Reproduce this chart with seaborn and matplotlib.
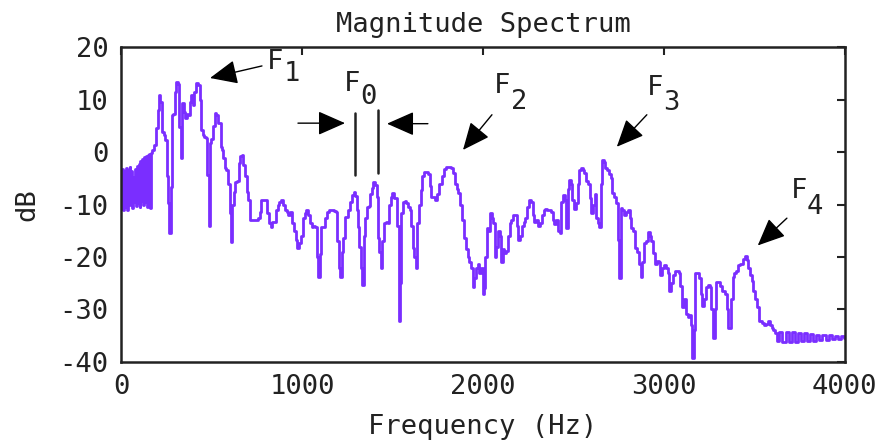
import matplotlib
matplotlib.use("Agg")
import matplotlib.pyplot as plt
import seaborn as sns
import pandas as pd

# Magnitude spectrum of a voiced speech frame (frequency in Hz, level in dB)
freq_hz = [
    0, 5, 10, 15, 20, 25, 30, 35, 40, 45, 50, 55, 60, 65, 70, 75, 80, 85, 90, 95,
    100, 105, 110, 115, 120, 125, 130, 135, 140, 145, 150, 155, 160, 164,
    168, 178, 188, 198, 206, 214, 222, 230, 240, 250, 258, 264, 272, 280, 286, 294,
    302, 310, 318, 326, 334, 342, 350, 358, 366, 374, 384, 392, 400, 410, 420, 430,
    438, 446, 456, 466, 474, 480, 488, 496, 504, 514, 522, 530, 538, 546, 554, 562,
    570, 578, 588, 598, 604, 612, 620, 628, 636, 646, 656, 664, 672, 680, 690, 700,
    708, 716, 726, 740, 752, 764, 772, 780, 792, 802, 812, 822, 832, 842, 852, 862,
    870, 880, 890, 900, 910, 920, 930, 940, 950, 960, 970, 980, 990, 1000, 1010, 1020,
    1028, 1038, 1048, 1058, 1068, 1078, 1086, 1094, 1102, 1112, 1122, 1132, 1142, 1152,
    1162, 1172, 1182, 1192, 1200, 1208, 1216, 1224, 1232, 1240, 1250, 1260, 1270, 1280,
    1290, 1298, 1306, 1314, 1322, 1330, 1338, 1346, 1354, 1364, 1372, 1380, 1390, 1400,
    1408, 1416, 1424, 1432, 1440, 1448, 1458, 1468, 1478, 1488, 1496, 1504, 1512, 1522,
    1530, 1538, 1546, 1554, 1562, 1572, 1582, 1592, 1600, 1608, 1616, 1626, 1634, 1642,
    1652, 1660, 1670, 1680, 1690, 1700, 1710, 1720, 1730, 1740, 1750, 1760, 1770, 1780,
    1790, 1800, 1810, 1820, 1830, 1840, 1850, 1860, 1870, 1880, 1890, 1900, 1910, 1920,
    1930, 1940, 1948, 1956, 1966, 1976, 1986, 1996, 2002, 2010, 2018, 2026, 2034, 2044,
    2054, 2062, 2070, 2078, 2088, 2098, 2106, 2114, 2124, 2134, 2144, 2152, 2162, 2172,
    2182, 2192, 2200, 2210, 2220, 2230, 2240, 2250, 2260, 2270, 2280, 2290, 2300, 2310,
    2320, 2330, 2340, 2350, 2360, 2370, 2380, 2390, 2400, 2410, 2420, 2430, 2438, 2446,
    2456, 2464, 2472, 2480, 2490, 2498, 2508, 2518, 2528, 2538, 2548, 2556, 2566, 2576,
    2586, 2594, 2602, 2612, 2622, 2630, 2640, 2648, 2656, 2664, 2672, 2682, 2692, 2702,
    2712, 2720, 2730, 2740, 2748, 2756, 2766, 2776, 2786, 2796, 2806, 2816, 2826, 2836,
    2846, 2856, 2866, 2876, 2886, 2896, 2906, 2916, 2926, 2936, 2946, 2956, 2966, 2976,
    2986, 2996, 3006, 3016, 3026, 3036, 3046, 3056, 3066, 3076, 3086, 3096, 3106, 3116,
    3126, 3136, 3146, 3154, 3162, 3170, 3178, 3188, 3198, 3208, 3218, 3228, 3238, 3248,
    3258, 3268, 3276, 3286, 3294, 3304, 3314, 3324, 3334, 3344, 3352, 3360, 3368, 3376,
    3384, 3394, 3404, 3414, 3424, 3434, 3444, 3454, 3462, 3470, 3480, 3490, 3500, 3510,
    3520, 3530, 3540, 3550, 3560, 3570, 3580, 3590, 3600, 3610, 3620,
    3630, 3647, 3664, 3681, 3698, 3715, 3732, 3749, 3766, 3783, 3800, 3817, 3834, 3851,
    3868, 3885, 3902, 3919, 3936, 3953, 3970, 3987, 4000,
]

level_db = [
    -4.0, -10.8, -3.3, -11.0, -3.6, -10.4, -3.0, -11.0, -3.4, -10.0, -2.8, -9.8, -3.6, -10.6,
    -4.8, -9.6, -3.2, -10.2, -2.6, -9.8, -2.2, -10.4, -1.8, -9.4, -1.4, -10.0, -1.0, -9.6,
    -0.8, -10.4, -0.5, -9.8, -0.3, -10.6,
    -0.2, 0.3, 1.3, 4.5, 8.0, 10.9, 9.5, 3.8, 3.2, 2.3, -4.5, -9.8, -15.5, -6.7, 7.0, 7.2,
    11.5, 13.4, 13.0, 4.8, -1.2, 9.4, 7.6, 6.5, 7.2, 7.0, 9.5, 10.9, 9.0, 11.5, 13.2, 12.8,
    10.0, 4.2, 3.2, 2.9, 2.7, -4.4, -14.0, 1.7, 2.5, 5.0, 7.4, 7.1, 5.5, 5.5, 1.0, 0.4,
    -1.2, -3.1, -3.4, -6.0, -11.7, -17.2, -10.0, -7.6, -5.7, -5.5, -2.0, -0.8, -0.6, -2.5, -4.6, -7.6,
    -9.2, -13.0, -13.0, -13.0, -13.0, -12.6, -11.5, -9.2, -9.2, -9.2, -11.7, -13.6, -14.3, -13.4, -13.4, -11.0,
    -10.0, -9.6, -9.2, -10.0, -11.0, -11.5, -12.0, -11.5, -13.6, -15.0, -16.8, -18.2, -17.4, -16.0, -12.5, -11.7,
    -11.0, -12.0, -13.6, -14.3, -14.0, -14.3, -20.0, -23.9, -19.5, -14.3, -14.3, -12.5, -11.5, -11.0,
    -11.0, -11.0, -11.3, -11.5, -17.0, -22.0, -23.9, -19.0, -16.3, -12.4, -12.4, -11.0, -9.5, -8.2,
    -7.6, -8.4, -11.0, -14.3, -18.0, -22.0, -25.4, -16.0, -12.6, -10.5, -10.3, -8.0, -6.8, -5.7,
    -6.3, -8.5, -16.3, -19.0, -22.0, -17.0, -13.6, -13.4, -13.6, -10.0, -8.6, -7.9, -8.8, -8.8,
    -14.0, -32.1, -25.0, -11.7, -9.5, -9.3, -9.8, -10.5, -11.0, -14.0, -18.2, -20.0, -22.0, -13.6,
    -10.0, -7.3, -4.5, -3.8, -3.8, -4.2, -6.5, -8.6, -8.6, -9.2, -8.0, -6.0, -6.0, -4.5,
    -3.2, -2.8, -2.8, -2.8, -3.0, -4.0, -6.0, -7.0, -7.9, -10.1, -13.0, -16.3, -18.5, -20.0,
    -21.0, -22.0, -25.8, -24.0, -22.0, -21.3, -23.0, -22.0, -27.0, -26.0, -20.0, -14.5, -15.0, -11.7,
    -12.5, -13.5, -20.0, -18.0, -15.0, -16.0, -21.0, -18.5, -19.2, -18.8, -16.0, -13.6, -13.0, -12.0,
    -12.0, -14.0, -16.8, -16.0, -14.0, -13.4, -12.5, -10.5, -9.2, -9.5, -12.0, -13.4, -13.0, -14.0,
    -13.6, -12.0, -11.0, -10.8, -11.0, -11.0, -11.5, -12.9, -13.8, -13.0, -15.0, -15.5, -9.5, -8.1,
    -9.2, -14.5, -7.0, -5.4, -6.0, -9.2, -10.8, -9.8, -6.0, -3.5, -3.1, -3.5, -4.0, -5.6,
    -6.0, -8.8, -11.6, -10.0, -8.0, -12.6, -13.5, -14.3, -6.0, -1.5, -1.9, -3.1, -3.5, -4.1,
    -5.0, -7.9, -8.5, -9.8, -16.8, -24.0, -10.7, -11.0, -12.0, -11.5, -11.0, -12.5, -14.5, -15.0,
    -18.2, -19.0, -21.3, -23.9, -21.0, -17.4, -17.0, -15.3, -16.0, -17.0, -19.3, -21.3, -20.7, -21.0,
    -23.5, -22.0, -21.6, -22.0, -23.0, -26.4, -25.0, -23.5, -22.6, -22.6, -23.0, -25.6, -29.5, -28.0,
    -30.8, -31.5, -31.0, -33.0, -39.2, -34.0, -23.0, -23.0, -24.0, -27.0, -29.3, -28.0, -25.8, -25.4,
    -25.8, -30.0, -35.4, -30.0, -24.8, -24.8, -25.5, -26.4, -26.4, -27.0, -30.0, -33.5, -33.6, -28.0,
    -23.9, -23.0, -22.6, -21.5, -21.3, -21.3, -20.3, -19.8, -20.5, -22.0, -23.5, -24.6, -26.4, -28.0,
    -29.6, -32.1, -32.1, -32.5, -33.0, -32.8, -32.1, -33.0, -33.5, -34.0, -34.4,
    -36.0, -34.2, -36.2, -34.2, -36.2, -34.3, -36.2, -34.4, -36.0, -34.5, -36.0, -34.6, -36.0, -34.8,
    -35.8, -34.8, -35.8, -34.8, -35.6, -35.0, -35.6, -35.0, -35.4,
]

x_ticks = [0, 1000, 2000, 3000, 4000]
y_ticks = [20, 10, 0, -10, -20, -30, -40]

# Formant labels: letter, subscript, label position, arrow tail and arrow tip
formant_names = ["F", "F", "F", "F"]
formant_subs = ["1", "2", "3", "4"]
formant_text_x = [851, 2105, 2950, 3746]
formant_text_y = [17.2, 12.6, 12.2, -7.5]
formant_tail = [(779, 16.4), (2050, 7.1), (2906, 7.1), (3680, -12.6)]
formant_tip = [(492, 14.1), (1890, 0.4), (2740, 1.0), (3519, -17.8)]

sns.set_style("white")
plt.rcParams["font.family"] = ["DejaVu Sans Mono"]

ink = "#222222"
fs = 19.5

fig = plt.figure(figsize=(8.8, 4.48), dpi=100)
ax = fig.add_axes([0.1375, 0.192, 0.8225, 0.703])

df = pd.DataFrame({"freq": freq_hz, "db": level_db})
sns.lineplot(data=df, x="freq", y="db", ax=ax, color="#7a2eff", linewidth=2.0,
             estimator=None, sort=False, drawstyle="steps-mid")

ax.set_xlim(0, 4000)
ax.set_ylim(-40, 20)
ax.set_xticks(x_ticks)
ax.set_yticks(y_ticks)
ax.set_xticklabels([str(v) for v in x_ticks])
ax.set_yticklabels([str(v) for v in y_ticks])

ax.tick_params(direction="in", length=6, width=1.5, top=True, right=True,
               labelsize=fs, pad=9, colors=ink)
for s in ax.spines.values():
    s.set_linewidth(1.8)
    s.set_color(ink)

ax.set_title("Magnitude Spectrum", fontsize=fs, pad=11, color=ink)
ax.set_xlabel("Frequency (Hz)", fontsize=fs, labelpad=10, color=ink)
ax.set_ylabel("dB", fontsize=fs, labelpad=14, color=ink)

arrow_kw = dict(arrowstyle="-|>,head_length=1.7,head_width=0.75", color="black",
                lw=1.0, shrinkA=0, shrinkB=0)

sub_dx = [94, 98, 94, 88]
sub_dy = [-2.3, -3.0, -2.8, -3.0]
for name, sub, tx, ty, tail, tip, dx, dy in zip(formant_names, formant_subs, formant_text_x,
                                                formant_text_y, formant_tail, formant_tip,
                                                sub_dx, sub_dy):
    ax.text(tx, ty, name, fontsize=fs, ha="center", va="center", color=ink)
    ax.text(tx + dx, ty + dy, sub, fontsize=fs, ha="center", va="center", color=ink)
    ax.annotate("", xy=tip, xytext=tail, arrowprops=arrow_kw)

# F0 marker: two bars one harmonic apart, with arrows pointing inward
ax.plot([1293, 1293], [7.5, -4.4], color=ink, lw=1.8)
ax.plot([1418, 1418], [8.0, -4.0], color=ink, lw=1.8)
ax.annotate("", xy=(1238, 5.5), xytext=(978, 5.5), arrowprops=arrow_kw)
ax.annotate("", xy=(1470, 5.4), xytext=(1696, 5.4), arrowprops=arrow_kw)
ax.text(1276, 13.0, "F", fontsize=fs, ha="center", va="center", color=ink)
ax.text(1370, 10.5, "0", fontsize=fs, ha="center", va="center", color=ink)

fig.savefig("out.png", dpi=100)
